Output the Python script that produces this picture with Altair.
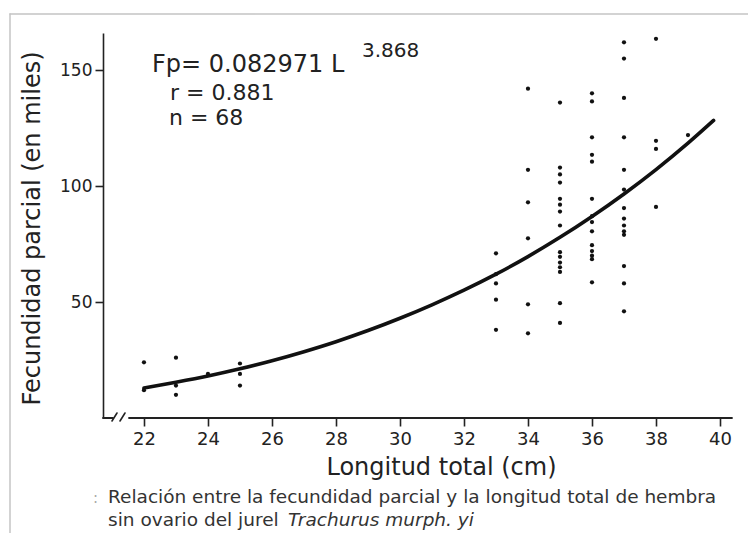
import altair as alt
import pandas as pd

# ---- data ----
L22 = [24, 12]
L23 = [26, 14, 10]
L24 = [19]
L25 = [23.5, 19, 14]
L33 = [71, 62, 58, 51, 38]
L34 = [142, 107, 93, 77.5, 49, 36.5]
L35 = [136, 108, 105, 101.5, 94.5, 92, 89, 83, 71.5, 69.5, 67, 65, 63, 49.5, 41]
L36 = [140, 136.5, 121, 113.5, 110.5, 94.5, 87, 84.5, 80.5, 74.5, 72, 70, 68.5, 58.5]
L37 = [162, 155, 138, 121, 107, 98.5, 90.5, 86, 83, 80.5, 79, 65.5, 58, 46]
L38 = [163.5, 119.5, 116, 91]
L39 = [122]

columns = {22: L22, 23: L23, 24: L24, 25: L25, 33: L33, 34: L34, 35: L35,
           36: L36, 37: L37, 38: L38, 39: L39}

curve_L = [22, 23, 24, 25, 26, 27, 28, 29, 30, 31, 32, 33, 34, 35, 36, 37, 38, 39, 39.8]
curve_F = [12.9, 15.4, 18.1, 21.2, 24.7, 28.6, 32.9, 37.7, 43.0, 48.8, 55.1, 62.0,
           69.6, 77.9, 86.9, 96.6, 107.1, 118.5, 128.3]

x_ticks = list(range(22, 41))
y_ticks = [50, 100, 150]

title_x = "Longitud  total (cm)"
title_y = "Fecundidad parcial (en miles)"
eq_main = "Fp= 0.082971 L"
eq_exp = "3.868"
eq_r = "r = 0.881"
eq_n = "n = 68"
cap1 = "Relación entre la fecundidad parcial y la longitud total de hembra"
cap2a = "sin ovario del jurel"
cap2b = "Trachurus murph. yi"

pts = pd.DataFrame([(L, v) for L, vals in columns.items() for v in vals], columns=["L", "F"])
curve = pd.DataFrame({"L": curve_L, "F": curve_F})

W, H = 629, 385
INK = "#222222"
FONT = "DejaVu Sans"

xsc = alt.Scale(domain=[20.72, 40.375], nice=False, zero=False)
ysc = alt.Scale(domain=[0, 166], nice=False)

xaxis = alt.Axis(values=x_ticks, labelExpr="datum.value % 2 == 0 ? datum.label : ''",
                 domain=False, grid=False, tickSize=8, tickWidth=1.6, tickColor=INK,
                 labelFontSize=18, labelFont=FONT, labelColor=INK, labelPadding=4,
                 title=title_x, titleFont=FONT, titleFontSize=24, titleFontWeight="normal",
                 titleColor=INK, titleX=338, titleY=56, titleAnchor="middle",
                 titleBaseline="alphabetic")
yaxis = alt.Axis(values=y_ticks, domain=True, domainColor=INK, domainWidth=1.6, grid=False,
                 tickSize=8, tickWidth=1.6, tickColor=INK, labelFontSize=17, labelFont=FONT,
                 labelColor=INK, labelPadding=3, title=title_y, titleFont=FONT,
                 titleFontSize=24, titleFontWeight="normal", titleColor=INK, titlePadding=15,
                 titleY=195, titleAnchor="middle")

points = alt.Chart(pts).mark_circle(size=18, color="#111111", opacity=1).encode(
    x=alt.X("L:Q", scale=xsc, axis=xaxis),
    y=alt.Y("F:Q", scale=ysc, axis=yaxis),
)

line = alt.Chart(curve).mark_line(color="#111111", strokeWidth=3.6, strokeCap="round",
                                  interpolate="monotone").encode(
    x=alt.X("L:Q", scale=xsc), y=alt.Y("F:Q", scale=ysc))

# decorative axis line with break, and page frame (pixel positions)
deco = pd.DataFrame({
    "x1": [0, 26, 9, 17, -93, -93],
    "x2": [10, W, 14, 22, W + 20, -93],
    "y1": [H, H, H + 3, H + 3, -19, -19],
    "y2": [H, H, H - 5, H - 5, -19, H + 120],
    "c": [INK, INK, INK, INK, "#c4c4c4", "#c4c4c4"],
    "w": [1.8, 1.8, 1.6, 1.6, 1.5, 1.5],
})
rules = alt.Chart(deco).mark_rule(strokeCap="round").encode(
    x=alt.X("x1:Q", scale=None), x2="x2:Q",
    y=alt.Y("y1:Q", scale=None), y2="y2:Q",
    color=alt.Color("c:N", scale=None), strokeWidth=alt.StrokeWidth("w:Q", scale=None))

def txt(s, x, y, size, font=FONT, style="normal", color=INK):
    d = pd.DataFrame({"t": [s], "x": [x], "y": [y]})
    return alt.Chart(d).mark_text(align="left", baseline="alphabetic", fontSize=size, font=font,
                                  fontStyle=style, color=color).encode(
        x=alt.X("x:Q", scale=None), y=alt.Y("y:Q", scale=None), text="t:N")

texts = [
    txt(eq_main, 49, 39, 24),
    txt(eq_exp, 259, 24, 20),
    txt(eq_r, 67, 67, 22),
    txt(eq_n, 66, 92, 22),
    txt(cap1, 5, 470, 18.5, color="#333333"),
    txt(cap2a, 5, 493, 18.5, color="#333333"),
    txt(cap2b, 185, 493, 18.5, style="italic", color="#333333"),
    txt(":", -10, 470, 15, color="#aaaaaa"),
]

chart = alt.layer(rules, line, points, *texts).properties(
    width=W, height=H, padding={"left": 103, "top": 33, "right": 16, "bottom": 115},
    autosize=alt.AutoSizeParams(type="none"), background="white"
).configure_view(stroke=None)

chart.save("out.html", embed_options={"renderer": "svg", "actions": False})
